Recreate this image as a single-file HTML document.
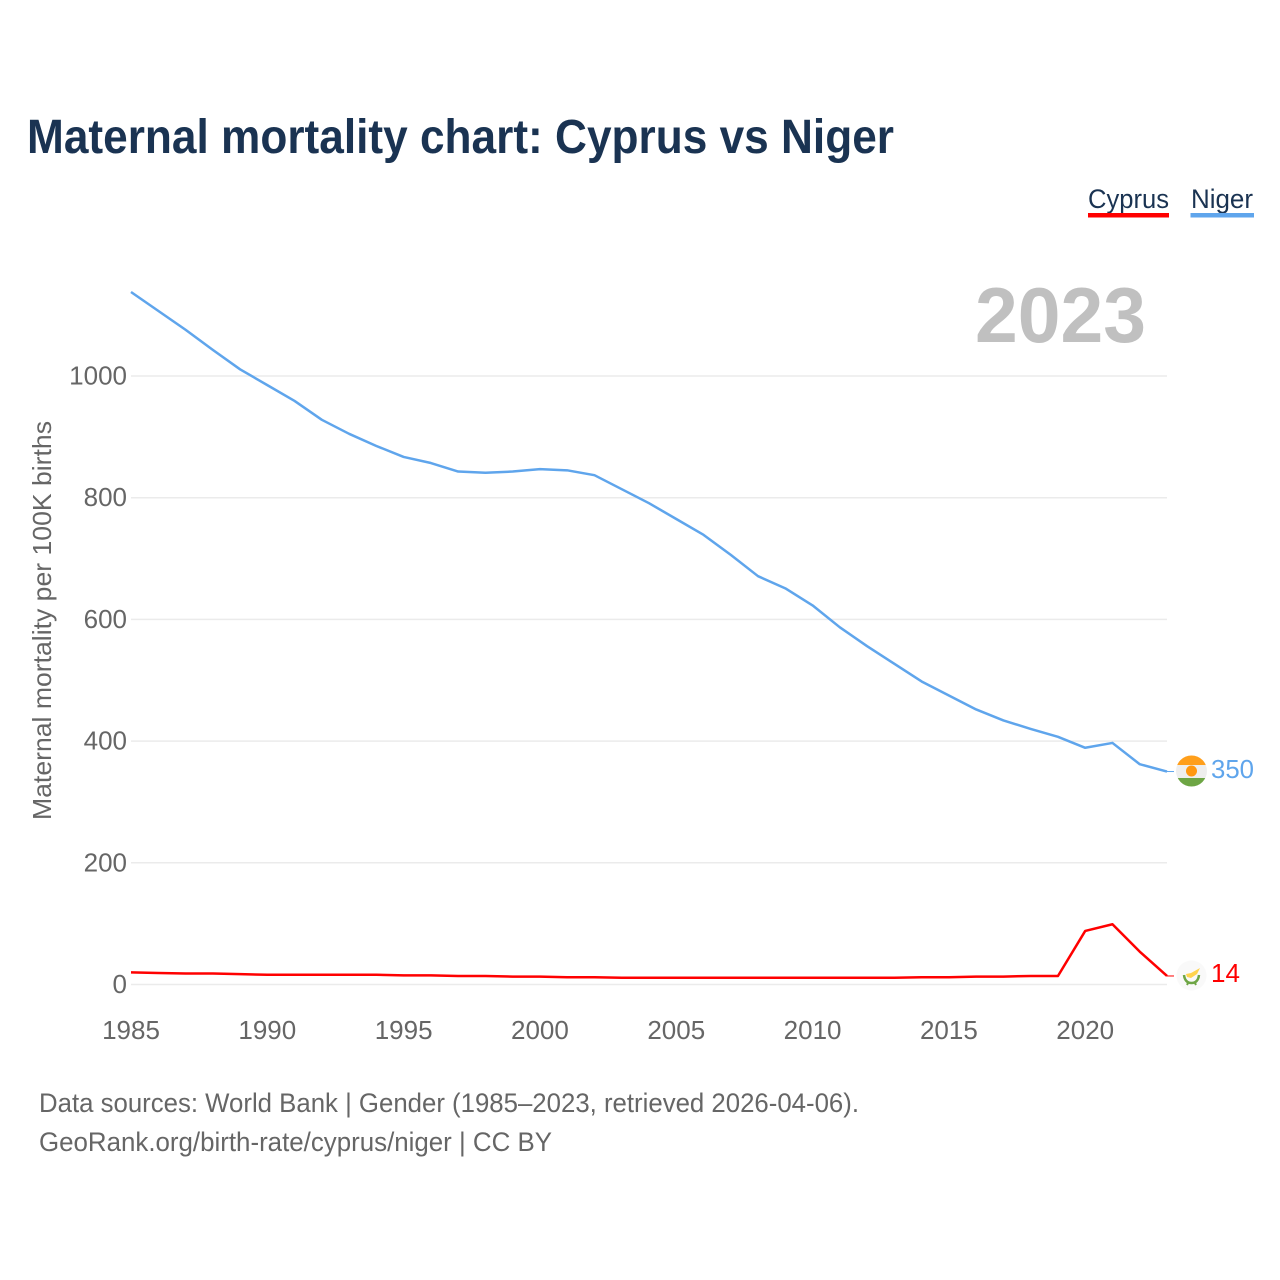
<!DOCTYPE html>
<html lang="en">
<head>
<meta charset="utf-8">
<title>Maternal mortality chart: Cyprus vs Niger</title>
<style>
  html, body { margin: 0; padding: 0; background: #fff; }
  svg { display: block; font-family: "Liberation Sans", sans-serif; }
</style>
</head>
<body>
<svg id="chart" xmlns="http://www.w3.org/2000/svg" width="1280" height="1280" viewBox="0 0 1280 1280">
  <rect x="0" y="0" width="1280" height="1280" fill="#ffffff"/>
  <text x="27" y="153" font-size="48" font-weight="700" fill="#1a3352" textLength="867" lengthAdjust="spacingAndGlyphs">Maternal mortality chart: Cyprus vs Niger</text>

  <g>
    <text x="1088" y="208" font-size="27" fill="#1a3352" textLength="81" lengthAdjust="spacingAndGlyphs">Cyprus</text>
    <rect x="1088" y="213" width="81" height="4.5" fill="#ff0000"/>
  </g>
  <g>
    <text x="1191" y="208" font-size="27" fill="#1a3352" textLength="62" lengthAdjust="spacingAndGlyphs">Niger</text>
    <rect x="1190.5" y="213" width="63.5" height="4.5" fill="#5fa5ec"/>
  </g>

  <text x="975" y="342" font-size="78" font-weight="700" fill="#c0c0c0" textLength="171" lengthAdjust="spacingAndGlyphs">2023</text>

  <g id="grid"></g>
  <g id="y-axis"></g>
  <g id="x-axis"></g>

  <text transform="translate(51 820) rotate(-90)" font-size="26" fill="#666666" textLength="399" lengthAdjust="spacingAndGlyphs">Maternal mortality per 100K births</text>

  <g id="series"></g>

  <g>
    <clipPath id="clip-niger"><circle cx="1191.5" cy="771" r="15.5"/></clipPath>
    <g clip-path="url(#clip-niger)">
      <rect x="1175" y="755" width="33" height="10" fill="#ff9f1c"/>
      <rect x="1175" y="765" width="33" height="13" fill="#eeeeee"/>
      <rect x="1175" y="778" width="33" height="10" fill="#6da544"/>
      <circle cx="1191.5" cy="771" r="5.5" fill="#ff9811"/>
    </g>
  </g>
  <g>
    <circle cx="1191.5" cy="975.5" r="15" fill="#f9f9f9"/>
    <path d="M1186 974 L1191 973 L1200 968 L1197 974 L1191 978 L1187 977 Z" fill="#ffd34d"/>
    <path d="M1184 975 Q1185 983 1191.5 983 Q1198 983 1199 975" fill="none" stroke="#6da544" stroke-width="2.5"/>
    <path d="M1188 983 L1187 985 M1195 983 L1196 985" stroke="#6da544" stroke-width="2"/>
  </g>

  <text id="value-niger" x="1211" y="778" font-size="26" fill="#5fa5ec" textLength="43" lengthAdjust="spacingAndGlyphs">350</text>
  <text id="value-cyprus" x="1211" y="982" font-size="26" fill="#ff0000">14</text>

  <text x="39" y="1112" font-size="27" fill="#666666" textLength="820" lengthAdjust="spacingAndGlyphs">Data sources: World Bank | Gender (1985–2023, retrieved 2026-04-06).</text>
  <text x="39" y="1151" font-size="27" fill="#666666" textLength="513" lengthAdjust="spacingAndGlyphs">GeoRank.org/birth-rate/cyprus/niger | CC BY</text>
</svg>
<script>
const years = [1985,1986,1987,1988,1989,1990,1991,1992,1993,1994,1995,1996,1997,1998,1999,2000,2001,2002,2003,2004,2005,2006,2007,2008,2009,2010,2011,2012,2013,2014,2015,2016,2017,2018,2019,2020,2021,2022,2023];
const nigerValues = [1138,1107,1076,1043,1011,985,959,928,905,885,867,857,843,841,843,847,845,837,814,791,765,739,706,671,651,623,587,556,527,498,475,452,434,420,407,389,397,362,350];
const cyprusValues = [20,19,18,18,17,16,16,16,16,16,15,15,14,14,13,13,12,12,11,11,11,11,11,11,11,11,11,11,11,12,12,13,13,14,14,88,99,54,14];
const yTickValues = [0,200,400,600,800,1000];
const xTickValues = [1985,1990,1995,2000,2005,2010,2015,2020];

const NS = 'http://www.w3.org/2000/svg';
const xScale = function (year) { return 131 + (year - 1985) * (1167 - 131) / (2023 - 1985); };
const yScale = function (value) { return 984.5 - value * (984.5 - 376) / 1000; };

const gridGroup = document.getElementById('grid');
const yAxisGroup = document.getElementById('y-axis');
const xAxisGroup = document.getElementById('x-axis');
const seriesGroup = document.getElementById('series');

yTickValues.forEach(function (tick) {
  const line = document.createElementNS(NS, 'line');
  
  
  line.setAttribute('x1', 131);
  line.setAttribute('x2', 1167);
  line.setAttribute('y1', yScale(tick));
  line.setAttribute('y2', yScale(tick));
  line.setAttribute('stroke', '#ebebeb');
  line.setAttribute('stroke-width', 1.5);
  gridGroup.appendChild(line);

  const label = document.createElementNS(NS, 'text');
  
  
  label.setAttribute('x', 127);
  label.setAttribute('y', yScale(tick) + 8.5);
  label.setAttribute('text-anchor', 'end');
  label.setAttribute('font-size', 26);
  label.setAttribute('fill', '#666666');
  label.textContent = tick;
  yAxisGroup.appendChild(label);
});

xTickValues.forEach(function (tick) {
  const label = document.createElementNS(NS, 'text');
  
  
  label.setAttribute('x', xScale(tick));
  label.setAttribute('y', 1039);
  label.setAttribute('text-anchor', 'middle');
  label.setAttribute('font-size', 26);
  label.setAttribute('fill', '#666666');
  label.textContent = tick;
  xAxisGroup.appendChild(label);
});

function buildPoints(values) {
  return values.map(function (value, i) {
    return xScale(years[i]).toFixed(2) + ',' + yScale(value).toFixed(2);
  }).join(' ');
}

function addLeader(values, color) {
  const lastY = yScale(values[values.length - 1]);
  const leader = document.createElementNS(NS, 'line');
  
  
  leader.setAttribute('x1', xScale(2023));
  leader.setAttribute('x2', xScale(2023) + 7);
  leader.setAttribute('y1', lastY);
  leader.setAttribute('y2', lastY);
  leader.setAttribute('stroke', color);
  leader.setAttribute('stroke-width', 1);
  seriesGroup.appendChild(leader);
}

const nigerLine = document.createElementNS(NS, 'polyline');


nigerLine.setAttribute('points', buildPoints(nigerValues));
nigerLine.setAttribute('fill', 'none');
nigerLine.setAttribute('stroke', '#5fa5ec');
nigerLine.setAttribute('stroke-width', 2.5);
nigerLine.setAttribute('stroke-linejoin', 'round');
seriesGroup.appendChild(nigerLine);
addLeader(nigerValues, '#5fa5ec');

const cyprusLine = document.createElementNS(NS, 'polyline');


cyprusLine.setAttribute('points', buildPoints(cyprusValues));
cyprusLine.setAttribute('fill', 'none');
cyprusLine.setAttribute('stroke', '#ff0000');
cyprusLine.setAttribute('stroke-width', 2.5);
cyprusLine.setAttribute('stroke-linejoin', 'round');
seriesGroup.appendChild(cyprusLine);
addLeader(cyprusValues, '#ff0000');

document.getElementById('value-niger').textContent = nigerValues[nigerValues.length - 1];
document.getElementById('value-cyprus').textContent = cyprusValues[cyprusValues.length - 1];
</script>
</body>
</html>
